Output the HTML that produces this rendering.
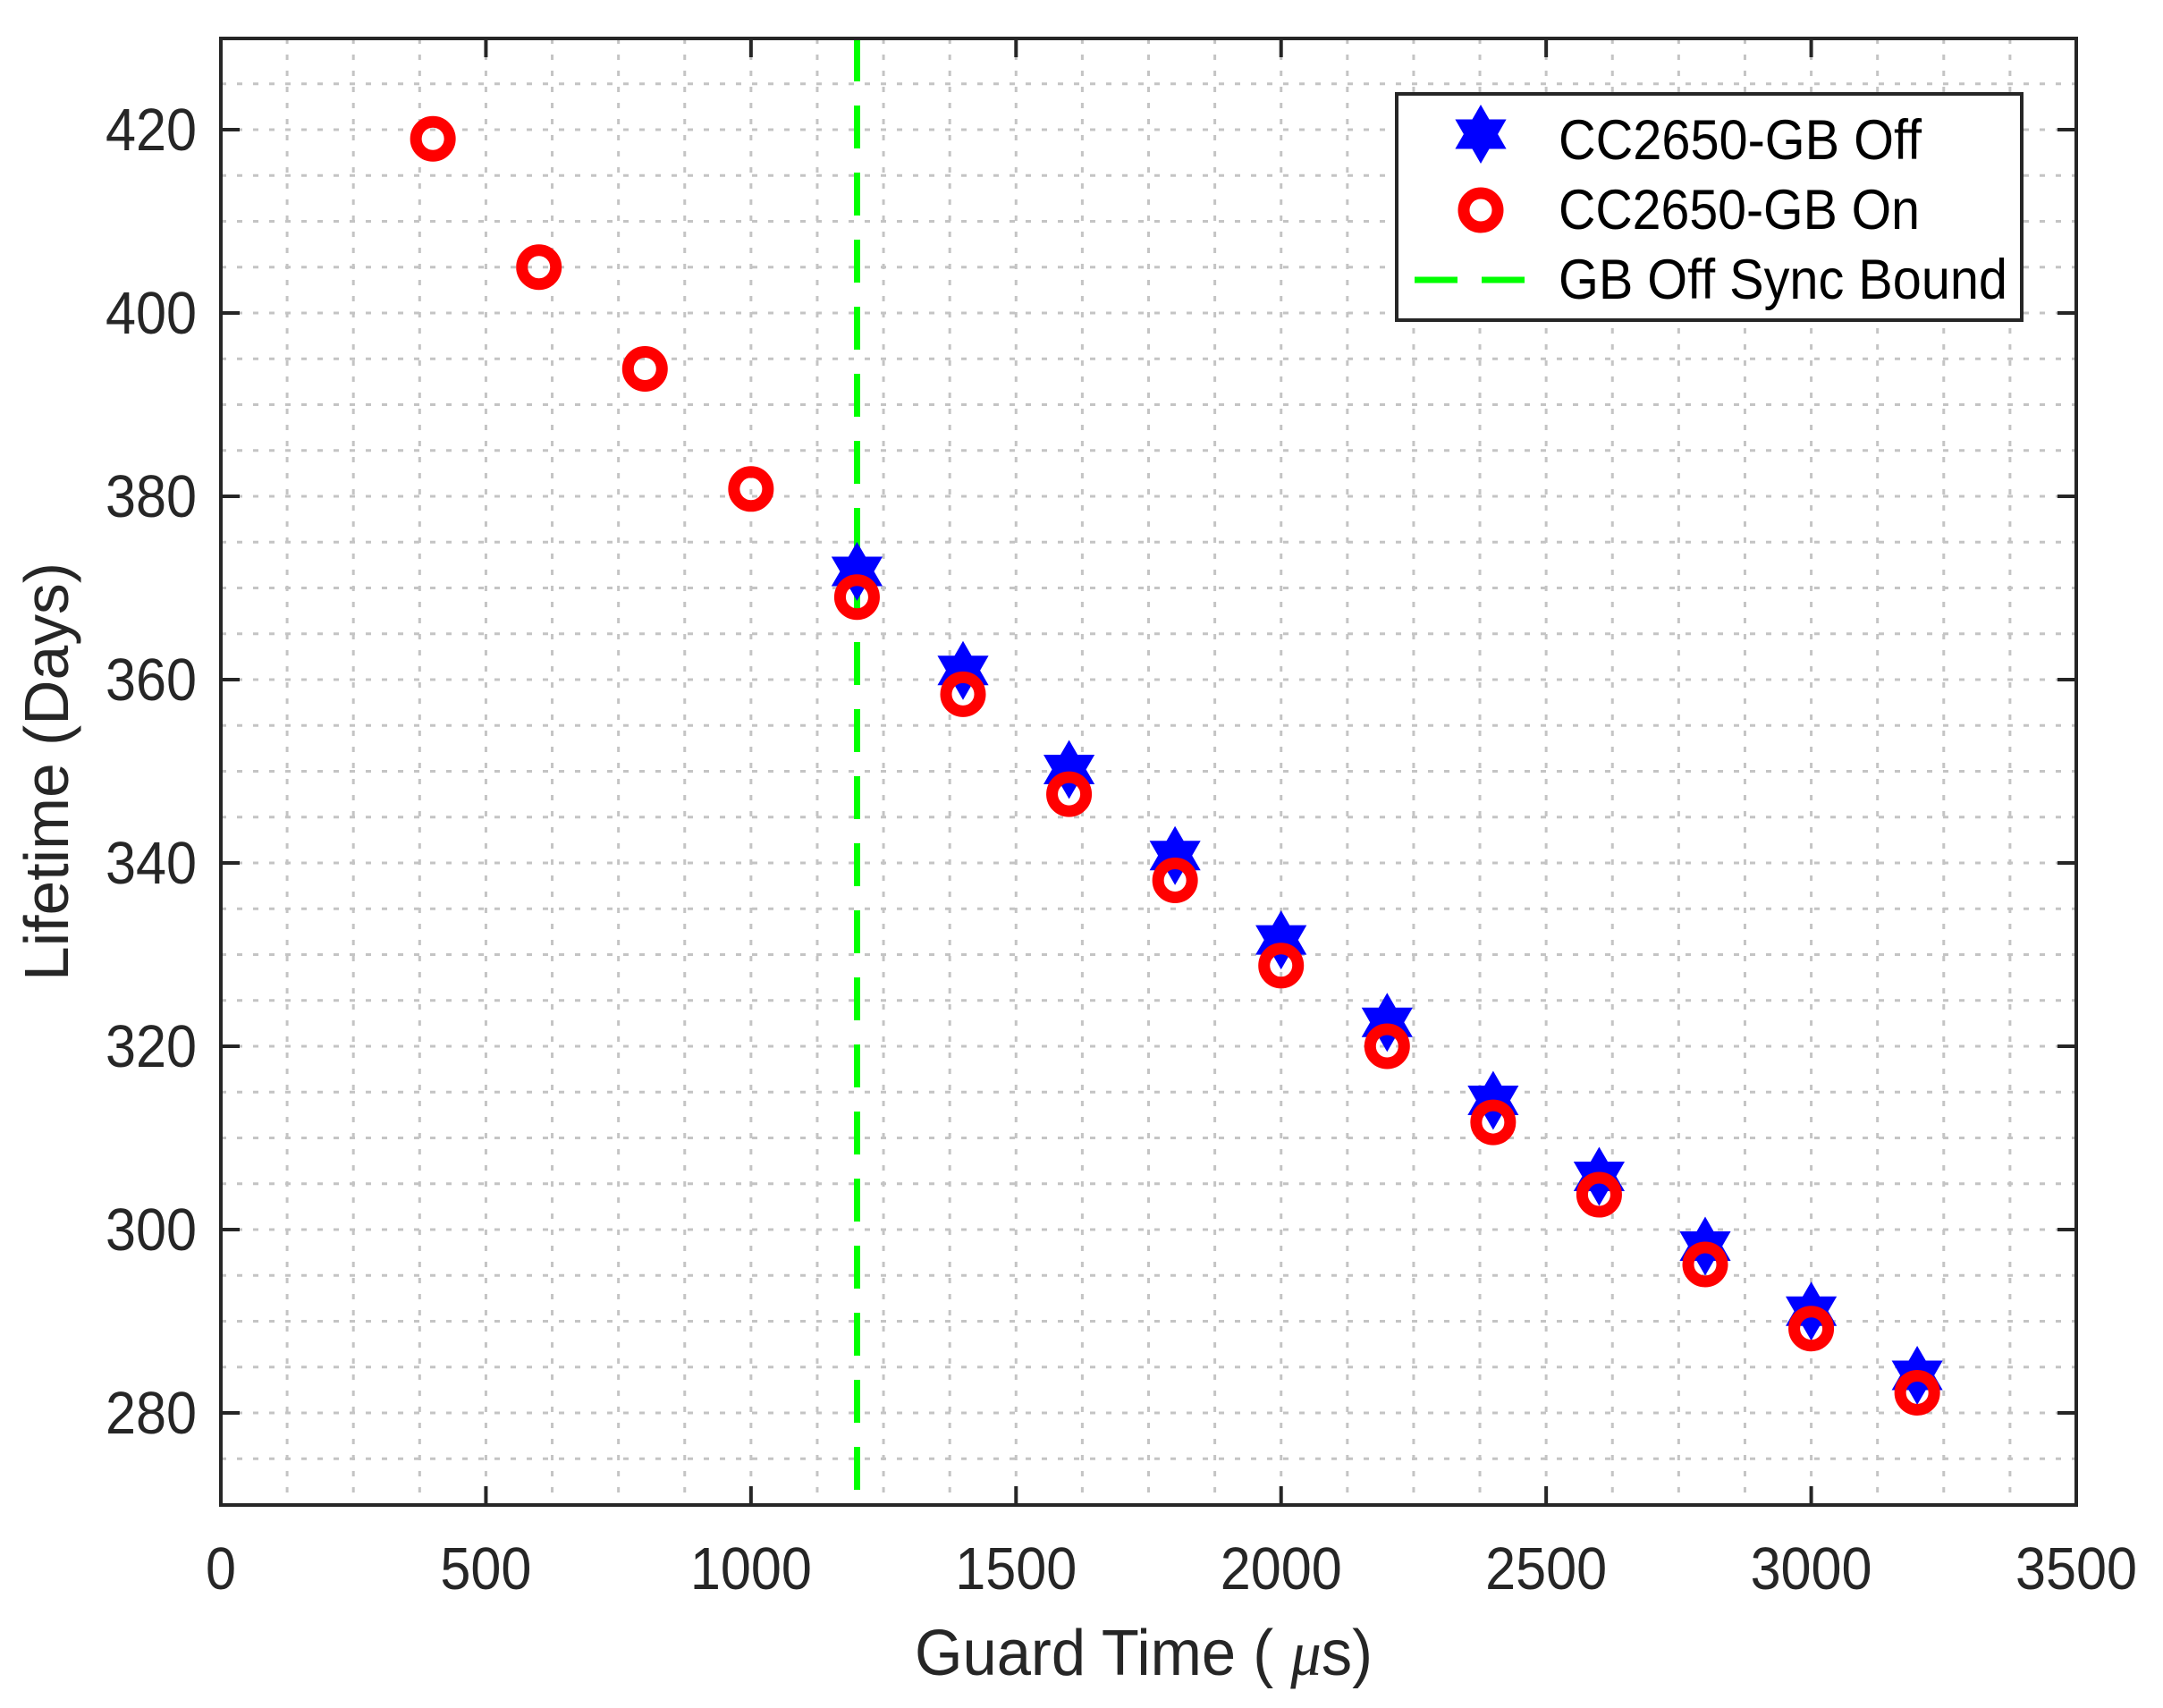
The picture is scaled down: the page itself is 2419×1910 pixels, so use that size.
<!DOCTYPE html>
<html><head><meta charset="utf-8"><style>
html,body{margin:0;padding:0;background:#fff;}
svg{display:block;font-family:"Liberation Sans",sans-serif;}
</style></head><body>
<svg id="s" width="2419" height="1910" viewBox="0 0 2419 1910" xmlns="http://www.w3.org/2000/svg">
<rect width="2419" height="1910" fill="#fff"/>
<g id="grid"></g>
<line x1="958.5" y1="43" x2="958.5" y2="1683" stroke="#00ff00" stroke-width="7" stroke-dasharray="48,27"/>
<g id="marks"></g>
<rect x="247" y="43" width="2075" height="1640" fill="none" stroke="#262626" stroke-width="4"/>
<g id="ticks"></g>
<text x="1023" y="1873" font-size="72" fill="#262626" textLength="512" lengthAdjust="spacingAndGlyphs">Guard Time ( <tspan font-family="Liberation Serif" font-style="italic">μ</tspan>s)</text>
<text transform="translate(76,863) rotate(-90)" x="-234" font-size="70" fill="#262626" textLength="468" lengthAdjust="spacingAndGlyphs">Lifetime (Days)</text>
<rect x="1562" y="105" width="699" height="253" fill="#fff" stroke="#262626" stroke-width="4"/>
<polygon id="legstar" fill="#0000ff"/>
<circle cx="1656" cy="235" r="19" fill="none" stroke="#ff0000" stroke-width="13"/>
<line x1="1582" y1="313" x2="1707" y2="313" stroke="#00ff00" stroke-width="7" stroke-dasharray="48,27"/>
<text x="1743" y="178" font-size="63" fill="#000" textLength="406" lengthAdjust="spacingAndGlyphs">CC2650-GB Off</text>
<text x="1743" y="256" font-size="63" fill="#000" textLength="404" lengthAdjust="spacingAndGlyphs">CC2650-GB On</text>
<text x="1743" y="334" font-size="63" fill="#000" textLength="502" lengthAdjust="spacingAndGlyphs">GB Off Sync Bound</text>
</svg>
<script>
var NS="http://www.w3.org/2000/svg";
function X(v){return 247+v*2075/3500;}
function Y(v){return 145+(420-v)*10.25;}
function el(p,t,a,txt){var e=document.createElementNS(NS,t);for(var k in a)e.setAttribute(k,a[k]);if(txt!=null)e.textContent=txt;p.appendChild(e);return e;}
var g=document.getElementById('grid');
for(var v=125;v<3500;v+=125){el(g,'line',{x1:X(v),y1:43,x2:X(v),y2:1683,stroke:'#c4c4c4','stroke-width':3,'stroke-dasharray':'6,12'});}
for(var v=275;v<430;v+=5){el(g,'line',{x1:247,y1:Y(v),x2:2322,y2:Y(v),stroke:'#c4c4c4','stroke-width':3,'stroke-dasharray':'6,12'});}
var t=document.getElementById('ticks');
for(var v=0;v<=3500;v+=500){var x=X(v);
 if(v>0&&v<3500){el(t,'line',{x1:x,y1:1683,x2:x,y2:1662,stroke:'#262626','stroke-width':4});el(t,'line',{x1:x,y1:43,x2:x,y2:64,stroke:'#262626','stroke-width':4});}
 var s=String(v),w=s.length*34;
 el(t,'text',{x:x-w/2,y:1777,'font-size':67,fill:'#262626',textLength:w,lengthAdjust:'spacingAndGlyphs'},s);}
for(var v=280;v<=420;v+=20){var y=Y(v);
 el(t,'line',{x1:247,y1:y,x2:268,y2:y,stroke:'#262626','stroke-width':4});el(t,'line',{x1:2322,y1:y,x2:2301,y2:y,stroke:'#262626','stroke-width':4});
 el(t,'text',{x:220-102,y:y+23,'font-size':67,fill:'#262626',textLength:102,lengthAdjust:'spacingAndGlyphs'},String(v));}
function star(cx,cy,R){var r=R/Math.sqrt(3),p=[];for(var i=0;i<12;i++){var a=-Math.PI/2+i*Math.PI/6,rr=i%2?r:R;p.push((cx+rr*Math.cos(a)).toFixed(1)+','+(cy+rr*Math.sin(a)).toFixed(1));}return p.join(' ');}
var m=document.getElementById('marks');
var off=[[1200,371.8],[1400,361],[1600,350.2],[1800,340.8],[2000,331.6],[2200,322.6],[2400,314.1],[2600,305.8],[2800,298.2],[3000,291.1],[3200,284.1]];
var on=[[400,419],[600,405],[800,393.9],[1000,380.8],[1200,369],[1400,358.4],[1600,347.5],[1800,338.1],[2000,328.8],[2200,320],[2400,311.7],[2600,303.8],[2800,296.2],[3000,289.2],[3200,282.2]];
off.forEach(function(d){el(m,'polygon',{points:star(X(d[0]),Y(d[1]),33),fill:'#0000ff'});});
on.forEach(function(d){el(m,'circle',{cx:X(d[0]),cy:Y(d[1]),r:19,fill:'none',stroke:'#ff0000','stroke-width':13});});
document.getElementById('legstar').setAttribute('points',star(1656,150,33));
</script>
</body></html>
